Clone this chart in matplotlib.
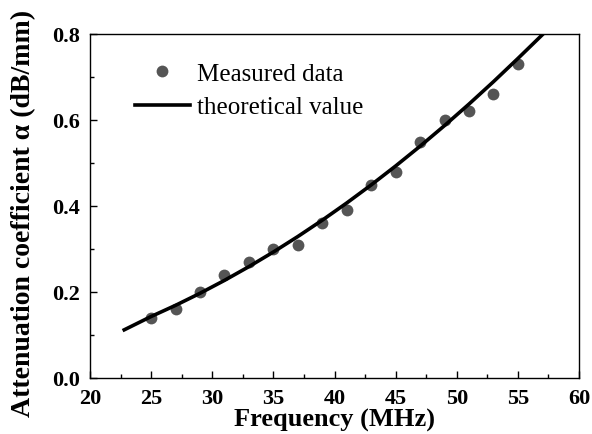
import matplotlib.pyplot as plt
from matplotlib.ticker import MultipleLocator

# measured attenuation points
freq = [25, 27, 29, 31, 33, 35, 37, 39, 41, 43, 45, 47, 49, 51, 53, 55]
alpha = [0.14, 0.16, 0.20, 0.24, 0.27, 0.30, 0.31, 0.36, 0.39, 0.45,
         0.48, 0.55, 0.60, 0.62, 0.66, 0.73]

# theoretical curve
theo_freq = [22.8, 25, 27, 29, 31, 33, 35, 37, 39, 41, 43, 45, 47, 49,
             51, 53, 55, 57.1]
theo_alpha = [0.112, 0.143, 0.169, 0.197, 0.227, 0.259, 0.293, 0.329,
              0.367, 0.407, 0.449, 0.493, 0.539, 0.587, 0.637, 0.689,
              0.743, 0.801]

plt.rcParams['font.family'] = ['Liberation Serif', 'DejaVu Serif']

fig = plt.figure(figsize=(5.92, 4.35), dpi=100)
ax = fig.add_axes([90 / 592, 1 - 379 / 435, 489 / 592, 344 / 435])

ax.plot(freq, alpha, 'o', color='#555555', markersize=8.5,
        markeredgewidth=0, label='Measured data')
ax.plot(theo_freq, theo_alpha, '-', color='black', linewidth=2.6,
        label='theoretical value')

ax.set_xlim(20, 60)
ax.set_ylim(0, 0.8)
ax.xaxis.set_major_locator(MultipleLocator(5))
ax.xaxis.set_minor_locator(MultipleLocator(2.5))
ax.yaxis.set_major_locator(MultipleLocator(0.2))
ax.yaxis.set_minor_locator(MultipleLocator(0.1))
ax.tick_params(which='both', direction='in', top=False, right=False)
ax.tick_params(which='major', length=5, width=1, labelsize=16)
ax.tick_params(axis='x', which='major', pad=7)
ax.tick_params(axis='y', which='major', pad=7)
ax.tick_params(which='minor', length=3, width=1)
for lab in ax.get_xticklabels() + ax.get_yticklabels():
    lab.set_fontweight('bold')
for s in ax.spines.values():
    s.set_linewidth(1)

ax.set_xlabel('Frequency (MHz)', fontsize=19, fontweight='bold', labelpad=0)
ax.set_ylabel('Attenuation coefficient α (dB/mm)', fontsize=20,
              fontweight='bold')
ax.yaxis.set_label_coords(-0.11, 0.48)

ax.legend(loc='upper left', bbox_to_anchor=(0.071, 0.947), frameon=False,
          fontsize=18, handlelength=2.2, handletextpad=0.3,
          labelspacing=0.45, borderaxespad=0)

fig.savefig('out.png', dpi=100)
